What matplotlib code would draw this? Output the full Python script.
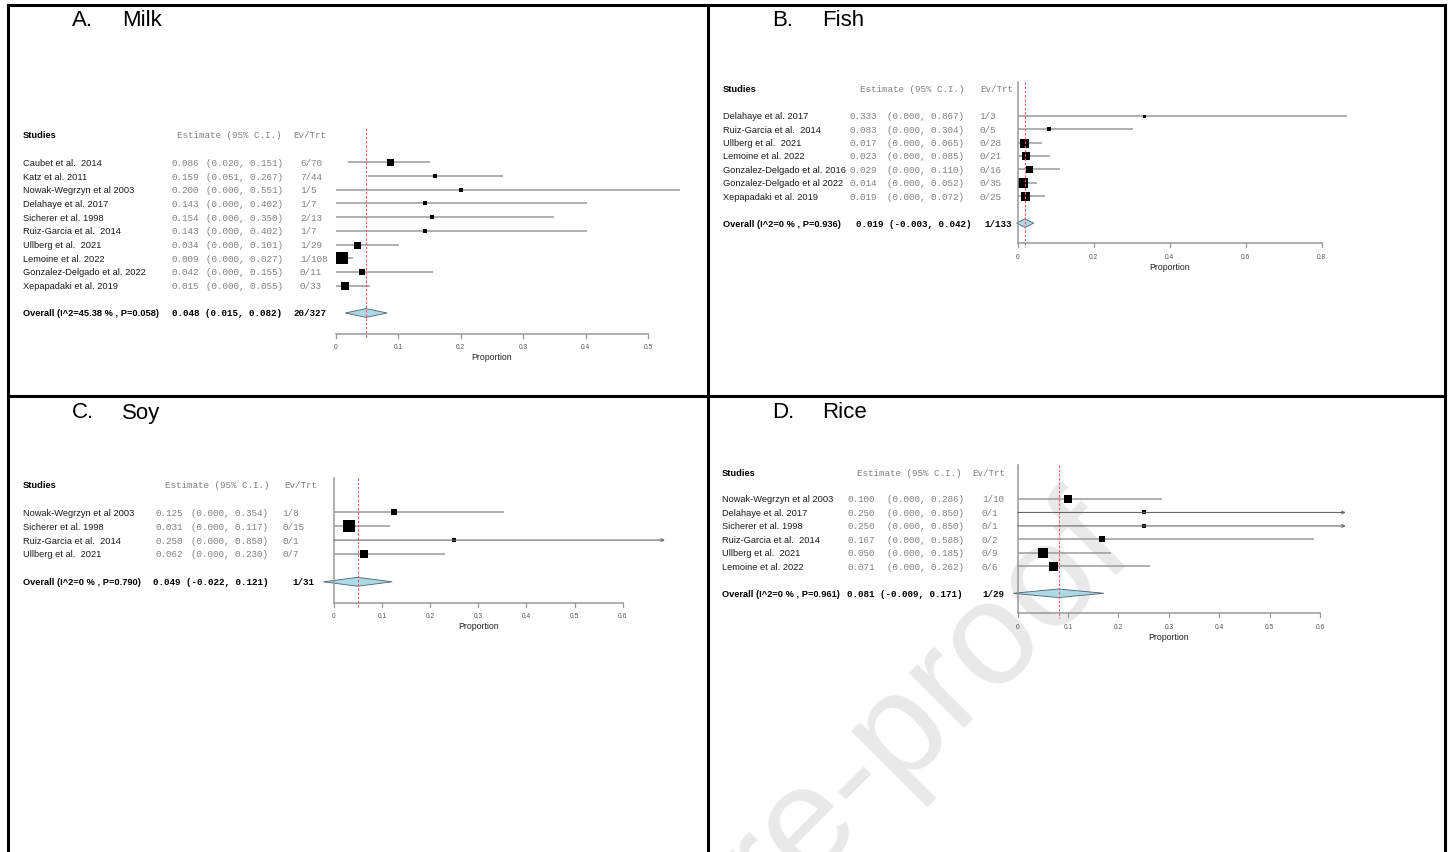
import matplotlib.pyplot as plt
from matplotlib.lines import Line2D
from matplotlib.patches import Polygon
import numpy as np

W, H = 1452, 853

# ---------------- data ----------------
# A. Milk
studies_a = ["Caubet et al.  2014", "Katz et al. 2011", "Nowak-Wegrzyn et al 2003",
             "Delahaye et al. 2017", "Sicherer et al. 1998", "Ruiz-Garcia et al.  2014",
             "Ullberg et al.  2021", "Lemoine et al. 2022", "Gonzalez-Delgado et al. 2022",
             "Xepapadaki et al. 2019"]
est_a = [0.086, 0.159, 0.200, 0.143, 0.154, 0.143, 0.034, 0.009, 0.042, 0.015]
lo_a = [0.020, 0.051, 0.000, 0.000, 0.000, 0.000, 0.000, 0.000, 0.000, 0.000]
hi_a = [0.151, 0.267, 0.551, 0.402, 0.350, 0.402, 0.101, 0.027, 0.155, 0.055]
ev_a = ["6/70", "7/44", "1/5", "1/7", "2/13", "1/7", "1/29", "1/108", "0/11", "0/33"]
box_a = [7, 5, 3.5, 3.5, 4, 4, 7, 12, 6, 8.5]
overall_a = (0.048, 0.015, 0.082)
ov_ev_a = "20/327"
ov_lab_a = "Overall (I^2=45.38 % , P=0.058)"
ticks_a = [0, 0.1, 0.2, 0.3, 0.4, 0.5]

# B. Fish
studies_b = ["Delahaye et al. 2017", "Ruiz-Garcia et al.  2014", "Ullberg et al.  2021",
             "Lemoine et al. 2022", "Gonzalez-Delgado et al. 2016",
             "Gonzalez-Delgado et al 2022", "Xepapadaki et al. 2019"]
est_b = [0.333, 0.083, 0.017, 0.023, 0.029, 0.014, 0.019]
lo_b = [0.000, 0.000, 0.000, 0.000, 0.000, 0.000, 0.000]
hi_b = [0.867, 0.304, 0.065, 0.085, 0.110, 0.052, 0.072]
ev_b = ["1/3", "0/5", "0/28", "0/21", "0/16", "0/35", "0/25"]
box_b = [3, 4.5, 9, 8, 7, 10, 9]
overall_b = (0.019, -0.003, 0.042)
ov_ev_b = "1/133"
ov_lab_b = "Overall (I^2=0 % , P=0.936)"
ticks_b = [0, 0.2, 0.4, 0.6, 0.8]

# C. Soy
studies_c = ["Nowak-Wegrzyn et al 2003", "Sicherer et al. 1998",
             "Ruiz-Garcia et al.  2014", "Ullberg et al.  2021"]
est_c = [0.125, 0.031, 0.250, 0.062]
lo_c = [0.000, 0.000, 0.000, 0.000]
hi_c = [0.354, 0.117, 0.850, 0.230]
ev_c = ["1/8", "0/15", "0/1", "0/7"]
box_c = [6.5, 11.5, 4, 8]
overall_c = (0.049, -0.022, 0.121)
ov_ev_c = "1/31"
ov_lab_c = "Overall (I^2=0 % , P=0.790)"
ticks_c = [0, 0.1, 0.2, 0.3, 0.4, 0.5, 0.6]

# D. Rice
studies_d = ["Nowak-Wegrzyn et al 2003", "Delahaye et al. 2017", "Sicherer et al. 1998",
             "Ruiz-Garcia et al.  2014", "Ullberg et al.  2021", "Lemoine et al. 2022"]
est_d = [0.100, 0.250, 0.250, 0.167, 0.050, 0.071]
lo_d = [0.000, 0.000, 0.000, 0.000, 0.000, 0.000]
hi_d = [0.286, 0.850, 0.850, 0.588, 0.185, 0.262]
ev_d = ["1/10", "0/1", "0/1", "0/2", "0/9", "0/6"]
box_d = [8, 4.5, 4.5, 6, 10.5, 9]
overall_d = (0.081, -0.009, 0.171)
ov_ev_d = "1/29"
ov_lab_d = "Overall (I^2=0 % , P=0.961)"
ticks_d = [0, 0.1, 0.2, 0.3, 0.4, 0.5, 0.6]

SANS = "Liberation Sans"
MONO = "Liberation Mono"
FS = 6.7
GREY_TXT = "#808080"
CI_COL = "#9a9a9a"

fig = plt.figure(figsize=(W / 100, H / 100), dpi=100)


def forest(cell, x0, ppu, y0, rowh, studies, est, lo, hi, ev, box,
           overall, ov_ev, ov_lab, ticks, cols, clip=None, zero_line=True):
    left, top, right, bottom = cell
    ax = fig.add_axes([left / W, 1 - bottom / H, (right - left) / W, (bottom - top) / H])
    ax.set_xlim((left - x0) / ppu, (right - x0) / ppu)
    ax.set_ylim((bottom - y0) / rowh, (top - y0) / rowh)
    ax.axis("off")
    ax.patch.set_alpha(0)

    def cx(px):
        return (px - x0) / ppu

    n = len(studies)
    r_ov = n + 1
    r_ax = r_ov + 1.5
    r_top = -2.5

    # header
    ax.text(cx(cols["name"]), -2, "Studies", fontsize=FS, family=SANS,
            weight="bold", va="center", ha="left")
    ax.text(cx(cols["est_hdr"]), -2, "Estimate (95% C.I.)", fontsize=FS, family=MONO,
            color=GREY_TXT, va="center", ha="left")
    ax.text(cx(cols["ev_hdr"]), -2, "Ev/Trt", fontsize=FS, family=MONO,
            color=GREY_TXT, va="center", ha="left")

    for i in range(n):
        ax.text(cx(cols["name"]), i, studies[i], fontsize=FS, family=SANS,
                color="#1a1a1a", va="center", ha="left")
        ax.text(cx(cols["est"]), i, f"{est[i]:.3f}", fontsize=FS, family=MONO,
                color=GREY_TXT, va="center", ha="left")
        ax.text(cx(cols["ci"]), i, f"({lo[i]:.3f}, {hi[i]:.3f})", fontsize=FS,
                family=MONO, color=GREY_TXT, va="center", ha="left")
        ax.text(cx(cols["ev"]), i, ev[i], fontsize=FS, family=MONO,
                color=GREY_TXT, va="center", ha="left")
        if clip is not None and hi[i] > clip:
            ax.annotate("", xy=(clip, i), xytext=(lo[i], i),
                        arrowprops=dict(arrowstyle="->", color="#666666", lw=0.8,
                                        mutation_scale=5, shrinkA=0, shrinkB=0))
        else:
            ax.plot([lo[i], hi[i]], [i, i], color=CI_COL, lw=1.1, solid_capstyle="butt")
        ax.plot(est[i], i, marker="s", color="black", ms=box[i] * 0.72, mew=0)

    # overall row
    ax.text(cx(cols["name"]), r_ov, ov_lab, fontsize=FS, family=SANS,
            weight="bold", va="center", ha="left")
    ax.text(cx(cols["est_ov"]), r_ov,
            f"{overall[0]:.3f} ({overall[1]:.3f}, {overall[2]:.3f})",
            fontsize=FS, family=MONO, weight="bold", va="center", ha="left")
    ax.text(cx(cols["ev_ov"]), r_ov, ov_ev, fontsize=FS, family=MONO,
            weight="bold", va="center", ha="left")
    m, l, h = overall
    dh = 0.32
    ax.add_patch(Polygon([(l, r_ov), (m, r_ov - dh), (h, r_ov), (m, r_ov + dh)],
                         closed=True, facecolor="#add8e6", edgecolor="#4a6470", lw=0.6))

    # reference lines
    ax.plot([m, m], [r_top, r_ax + 0.3], color="#ff5a5a", lw=0.8, ls=(0, (2.2, 1.6)))
    if zero_line:
        ax.plot([0, 0], [r_top, r_ax], color="#999999", lw=1.1)

    # x axis
    ax.plot([ticks[0], ticks[-1]], [r_ax, r_ax], color="#999999", lw=1.1)
    tick_len = 4 / rowh
    for t in ticks:
        ax.plot([t, t], [r_ax, r_ax + tick_len], color="#999999", lw=0.9)
        ax.text(t, r_ax + 13 / rowh, f"{t:g}", fontsize=4.8, family=SANS,
                color="#555555", ha="center", va="center")
    ax.text((ticks[0] + ticks[-1]) / 2, r_ax + 23 / rowh, "Proportion", fontsize=6.3,
            family=SANS, color="#222222", ha="center", va="center")
    return ax


# panel A
forest((10, 8, 706, 396), 336, 624, 163.3, 13.7, studies_a, est_a, lo_a, hi_a, ev_a, box_a,
       overall_a, ov_ev_a, ov_lab_a, ticks_a,
       dict(name=23, est=172, ci=205.6, ev=300, est_ov=172, ev_ov=294, est_hdr=177, ev_hdr=293),
       zero_line=False)
# panel B
forest((710, 8, 1443, 396), 1017.7, 380, 116.7, 13.43, studies_b, est_b, lo_b, hi_b, ev_b, box_b,
       overall_b, ov_ev_b, ov_lab_b, ticks_b,
       dict(name=723, est=850, ci=887, ev=979, est_ov=856, ev_ov=984, est_hdr=860, ev_hdr=980))
# panel C
forest((10, 400, 706, 853), 334, 481, 513.3, 13.9, studies_c, est_c, lo_c, hi_c, ev_c, box_c,
       overall_c, ov_ev_c, ov_lab_c, ticks_c,
       dict(name=23, est=155, ci=191, ev=282, est_ov=153, ev_ov=292, est_hdr=165, ev_hdr=284),
       clip=0.688)
# panel D
forest((710, 400, 1443, 853), 1017.7, 503.9, 500, 13.47, studies_d, est_d, lo_d, hi_d, ev_d, box_d,
       overall_d, ov_ev_d, ov_lab_d, ticks_d,
       dict(name=722, est=847, ci=887, ev=982, est_ov=847, ev_ov=982, est_hdr=857, ev_hdr=972),
       clip=0.651)

# panel titles
for lab, name, px, py in [("A.", "Milk", 72, 21), ("B.", "Fish", 772, 21),
                          ("C.", "Soy", 72, 413), ("D.", "Rice", 772, 413)]:
    fig.text(px / W, 1 - py / H, lab, fontsize=16, family=SANS, va="center", ha="left")
    fig.text((px + 50) / W, 1 - py / H, name, fontsize=16, family=SANS, va="center", ha="left")

# table borders
bw = 2.2
for (xa, ya, xb, yb) in [(8, 6, 1445, 6), (8, 6, 8, 853), (1445, 6, 1445, 853),
                         (8, 397, 1445, 397), (708, 6, 708, 853)]:
    fig.add_artist(Line2D([xa / W, xb / W], [1 - ya / H, 1 - yb / H], color="black",
                          lw=bw, solid_capstyle="projecting"))

# watermark
fig.text(1137 / W, 1 - 556 / H, "Journal Pre-proof", fontsize=106, family=SANS,
         color="#e9e9e9", rotation=45, rotation_mode="anchor", ha="right", va="baseline",
         zorder=-5)

fig.savefig("out.png", dpi=100, facecolor="white")
